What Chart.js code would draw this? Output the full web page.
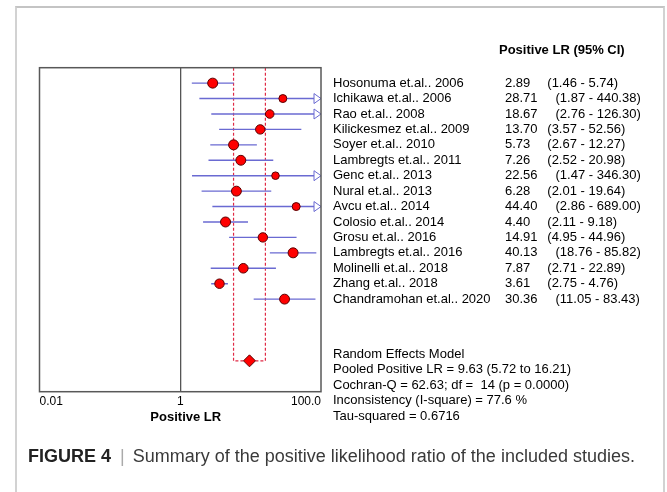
<!DOCTYPE html>
<html>
<head>
<meta charset="utf-8">
<script src="https://cdn.jsdelivr.net/npm/chart.js@4"></script>
<style>
  html, body { margin: 0; padding: 0; background: #fff; width: 667px; height: 492px; overflow: hidden; }
  #frame { position: absolute; left: 15px; top: 6px; width: 650px; height: 520px; box-sizing: border-box;
           border-left: 2px solid #d2d2d2; border-right: 2px solid #d2d2d2; border-top: 2px solid #c4c4c4; }
  #chart { position: absolute; left: 0; top: 0; }
  #caption { position: absolute; left: 28px; top: 446px; line-height: 21px; white-space: nowrap;
             font: 18px "Liberation Sans", Arial, sans-serif; color: #3a3a3a; }
  #caption b { color: #222; }
  #caption .sep { color: #aaa; margin: 0 8px 0 9px; }
</style>
</head>
<body>
<div id="frame"></div>
<canvas id="chart" width="667" height="492"></canvas>
<div id="caption"><b>FIGURE 4</b><span class="sep">|</span>Summary of the positive likelihood ratio of the included studies.</div>
<script>
// Studies in the positive likelihood ratio forest plot
const studies = [
  'Hosonuma et.al.. 2006', 'Ichikawa et.al.. 2006', 'Rao et.al.. 2008', 'Kilickesmez et.al.. 2009',
  'Soyer et.al.. 2010', 'Lambregts et.al.. 2011', 'Genc et.al.. 2013', 'Nural et.al.. 2013',
  'Avcu et.al.. 2014', 'Colosio et.al.. 2014', 'Grosu et.al.. 2016', 'Lambregts et.al.. 2016',
  'Molinelli et.al.. 2018', 'Zhang et.al.. 2018', 'Chandramohan et.al.. 2020'
];
const lrValues = [2.89, 28.71, 18.67, 13.70, 5.73, 7.26, 22.56, 6.28, 44.40, 4.40, 14.91, 40.13, 7.87, 3.61, 30.36];
const ciLower  = [1.46, 1.87, 2.76, 3.57, 2.67, 2.52, 1.47, 2.01, 2.86, 2.11, 4.95, 18.76, 2.71, 2.75, 11.05];
const ciUpper  = [5.74, 440.38, 126.30, 52.56, 12.27, 20.98, 346.30, 19.64, 689.00, 9.18, 44.96, 85.82, 22.89, 4.76, 83.43];
// relative study weights (%), shown by marker size
const weights  = [8.0, 4.0, 5.2, 6.8, 8.0, 7.8, 3.2, 7.8, 4.0, 8.0, 6.8, 8.0, 7.2, 7.0, 7.8];

// Random effects pooled estimate
const pooledLR = 9.63;
const pooledLower = 5.72;
const pooledUpper = 16.21;

const xTickValues = [0.01, 1, 100];
const xTickLabels = ['0.01', '1', '100.0'];
const axisTitle = 'Positive LR';
const columnHeader = 'Positive LR (95% CI)';
const summaryLines = [
  'Random Effects Model',
  'Pooled Positive LR = 9.63 (5.72 to 16.21)',
  'Cochran-Q = 62.63; df =  14 (p = 0.0000)',
  'Inconsistency (I-square) = 77.6 %',
  'Tau-squared = 0.6716'
];

const FONT = '"Liberation Sans", Arial, sans-serif';
const CI_COLOR = '#6a6ad2';
const pooledRow = studies.length + 3;

const fmt = v => v.toFixed(2);

// one horizontal segment per study confidence interval
const ciDatasets = studies.map((s, i) => ({
  label: s,
  data: [{ x: ciLower[i], y: i }, { x: ciUpper[i], y: i }],
  showLine: true,
  borderColor: CI_COLOR,
  borderWidth: 1.4,
  pointRadius: 0,
  order: 3
}));

const pointDataset = {
  label: 'Positive LR',
  data: lrValues.map((v, i) => ({ x: v, y: i })),
  pointRadius: weights.map(w => 3 + w * 0.25),
  pointBackgroundColor: '#ff0000',
  pointBorderColor: '#5a0000',
  pointBorderWidth: 1,
  order: 0
};

const pooledDataset = {
  label: 'Pooled',
  data: [{ x: pooledLR, y: pooledRow }],
  pointStyle: 'rectRot',
  pointRadius: 6,
  pointBackgroundColor: '#ff0000',
  pointBorderColor: '#5a0000',
  pointBorderWidth: 1,
  order: 0
};

// dotted bracket marking the pooled confidence interval
const pooledCIDataset = {
  label: 'Pooled CI',
  data: [
    { x: pooledLower, y: -1 }, { x: pooledLower, y: pooledRow },
    { x: pooledUpper, y: pooledRow }, { x: pooledUpper, y: -1 }
  ],
  showLine: true,
  borderColor: '#e02a46',
  borderWidth: 1.2,
  borderDash: [3, 2],
  pointRadius: 0,
  order: 4
};

const forestDecor = {
  id: 'forestDecor',
  afterDatasetsDraw(chart) {
    const { ctx, chartArea: a, scales: { x, y } } = chart;
    ctx.save();
    // open arrow heads where the interval runs past the axis
    ctx.strokeStyle = CI_COLOR;
    ctx.fillStyle = '#fff';
    ctx.lineWidth = 1;
    ciUpper.forEach((hi, i) => {
      if (hi > x.max) {
        const py = y.getPixelForValue(i);
        ctx.beginPath();
        ctx.moveTo(a.right, py);
        ctx.lineTo(a.right - 7, py - 5);
        ctx.lineTo(a.right - 7, py + 5);
        ctx.closePath();
        ctx.fill();
        ctx.stroke();
      }
    });
    // plot frame
    ctx.strokeStyle = '#585858';
    ctx.lineWidth = 1.5;
    ctx.strokeRect(a.left, a.top, a.right - a.left, a.bottom - a.top);
    ctx.restore();
  },
  afterDraw(chart) {
    const { ctx, chartArea: a, scales: { y } } = chart;
    ctx.save();
    ctx.fillStyle = '#000';
    ctx.textBaseline = 'middle';
    ctx.textAlign = 'left';

    ctx.font = 'bold 13px ' + FONT;
    ctx.fillText(columnHeader, 499, 50.5);

    ctx.font = '13px ' + FONT;
    studies.forEach((s, i) => {
      const py = y.getPixelForValue(i);
      const ci = '(' + fmt(ciLower[i]) + ' - ' + fmt(ciUpper[i]) + ')';
      ctx.fillText(s, 333, py);
      ctx.fillText(fmt(lrValues[i]), 505, py);
      ctx.fillText(ci, ci.length >= 15 ? 555.5 : 547.3, py);
    });
    summaryLines.forEach((t, k) => {
      ctx.fillText(t, 333, 354.5 + k * 15.4);
    });

    ctx.font = 'bold 13px ' + FONT;
    ctx.textAlign = 'center';
    ctx.fillText(axisTitle, (a.left + a.right) / 2 + 5.5, 417);
    ctx.restore();
  }
};

new Chart(document.getElementById('chart'), {
  type: 'scatter',
  data: { datasets: [pointDataset, pooledDataset, ...ciDatasets, pooledCIDataset] },
  options: {
    responsive: false,
    animation: false,
    layout: { padding: { left: 39.5, right: 346, top: 67.7, bottom: 60.3 } },
    plugins: { legend: { display: false }, tooltip: { enabled: false } },
    scales: {
      x: {
        type: 'logarithmic',
        min: 0.01,
        max: 100,
        afterBuildTicks: s => { s.ticks = xTickValues.map(v => ({ value: v })); },
        afterFit: s => { s.height = 40; },
        ticks: {
          autoSkip: false,
          maxRotation: 0,
          align: 'inner',
          padding: 3,
          color: '#000',
          font: { family: FONT, size: 12 },
          callback: (v, i) => xTickLabels[i]
        },
        grid: {
          drawTicks: false,
          lineWidth: 1.3,
          color: c => (c.tick && c.tick.value === 1 ? '#555555' : 'rgba(0,0,0,0)')
        },
        border: { display: false }
      },
      y: {
        type: 'linear',
        min: -1,
        max: 20,
        reverse: true,
        display: false
      }
    }
  },
  plugins: [forestDecor]
});
</script>
</body>
</html>
